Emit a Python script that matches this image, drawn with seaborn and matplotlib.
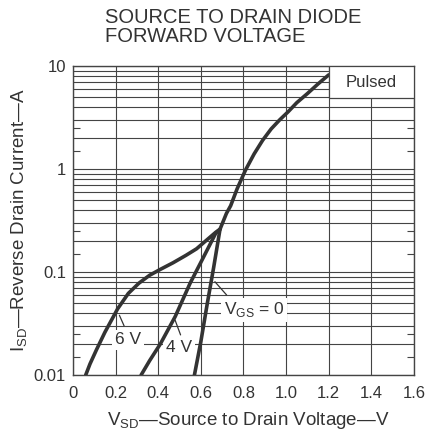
import numpy as np
import pandas as pd
import matplotlib
matplotlib.use("Agg")
import matplotlib.pyplot as plt
from matplotlib.patches import Rectangle
import seaborn as sns

# curve readings (V_SD in volts, I_SD in amps)
vgs0_v = [0.57, 0.60, 0.63, 0.66, 0.69, 0.72, 0.74, 0.77, 0.81, 0.85, 0.89,
          0.93, 0.97, 1.01, 1.05, 1.10, 1.15, 1.20]
vgs0_i = [0.01, 0.021, 0.049, 0.11, 0.26, 0.37, 0.44, 0.64, 0.98, 1.4, 1.9,
          2.45, 3.0, 3.6, 4.4, 5.4, 6.7, 8.2]

vgs4_v = [0.32, 0.36, 0.41, 0.48, 0.55, 0.60, 0.63, 0.67, 0.69]
vgs4_i = [0.01, 0.0138, 0.020, 0.037, 0.078, 0.124, 0.164, 0.238, 0.26]

vgs6_v = [0.06, 0.08, 0.11, 0.15, 0.21, 0.26, 0.31, 0.36, 0.41, 0.47, 0.53,
          0.58, 0.61, 0.64, 0.67, 0.69]
vgs6_i = [0.01, 0.0128, 0.0175, 0.026, 0.044, 0.062, 0.078, 0.093, 0.106,
          0.123, 0.145, 0.168, 0.19, 0.215, 0.243, 0.26]

x_ticks = [0, 0.2, 0.4, 0.6, 0.8, 1.0, 1.2, 1.4, 1.6]
x_labels = ["0", "0.2", "0.4", "0.6", "0.8", "1.0", "1.2", "1.4", "1.6"]
y_decades = [0.01, 0.1, 1, 10]
y_labels = ["0.01", "0.1", "1", "10"]

df = pd.concat([
    pd.DataFrame({"v": vgs0_v, "i": vgs0_i, "vgs": "0"}),
    pd.DataFrame({"v": vgs4_v, "i": vgs4_i, "vgs": "4"}),
    pd.DataFrame({"v": vgs6_v, "i": vgs6_i, "vgs": "6"}),
])

sns.set_style("white")
plt.rcParams["font.family"] = ["Liberation Sans", "DejaVu Sans"]
plt.rcParams["mathtext.fontset"] = "custom"
plt.rcParams["mathtext.rm"] = "Liberation Sans"

ink = "#333333"
fig = plt.figure(figsize=(4.29, 4.42), dpi=100)
ax = fig.add_axes([0.170, 0.1516, 0.795, 0.6991])

sns.lineplot(data=df, x="v", y="i", hue="vgs", units="vgs", estimator=None,
             sort=False, palette=[ink, ink, ink], linewidth=2.6,
             legend=False, ax=ax, zorder=4)
for ln in ax.lines:
    ln.set_solid_joinstyle("round")
    ln.set_solid_capstyle("round")

ax.set_yscale("log")
ax.set_xlim(0, 1.6)
ax.set_ylim(0.01, 10)

# grid at every 1..9 of each decade, labels only on decades
grid_y = [m * d for d in [0.01, 0.1, 1] for m in range(1, 10)] + [10]
ax.set_yticks(grid_y)
ax.set_yticklabels([y_labels[y_decades.index(g)] if g in y_decades else "" for g in grid_y])
ax.set_yticks([k * d for d in [0.01, 0.1, 1] for k in (1.5, 2.5)], minor=True)
ax.yaxis.set_minor_formatter(matplotlib.ticker.NullFormatter())
ax.set_xticks(x_ticks, x_labels)

ax.grid(True, which="major", color="#444444", linewidth=0.8)
ax.tick_params(axis="both", which="major", length=0, labelsize=12, colors=ink)
ax.tick_params(axis="x", pad=8)
ax.tick_params(axis="y", pad=5)
ax.tick_params(axis="y", which="minor", direction="in", length=5, width=0.8,
               left=True, right=True, color="#444444")
for s in ax.spines.values():
    s.set_color("#444444")
    s.set_linewidth(1.0)

ax.set_xlabel(r"V$_{\mathregular{SD}}$—Source to Drain Voltage—V", fontsize=13.5, color=ink, va="center")
ax.set_ylabel(r"I$_{\mathregular{SD}}$—Reverse Drain Current—A", fontsize=13.5, color=ink, va="center")
ax.xaxis.set_label_coords(0.513, -0.146)
ax.yaxis.set_label_coords(-0.155, 0.5)

box = dict(facecolor="white", edgecolor="none", pad=2)
ax.text(0.258, 0.0219, "6 V", fontsize=12.5, color=ink, ha="center", va="center", bbox=box, zorder=3)
ax.text(0.497, 0.0183, "4 V", fontsize=12.5, color=ink, ha="center", va="center", bbox=box, zorder=3)
ax.text(0.85, 0.0428, r"V$_{\mathregular{GS}}$ = 0", fontsize=12.5, color=ink, ha="center", va="center", bbox=box, zorder=3)
ax.plot([0.218, 0.24], [0.038, 0.030], color=ink, lw=0.9, zorder=5)
ax.plot([0.479, 0.505], [0.0342, 0.0245], color=ink, lw=0.9, zorder=5)
ax.plot([0.666, 0.721], [0.0805, 0.0598], color=ink, lw=0.9, zorder=5)

# Pulsed box in the upper right corner
ax.add_patch(Rectangle((0.751, 0.897), 0.249, 0.103, transform=ax.transAxes,
                       facecolor="white", edgecolor="#444444", lw=0.9, zorder=5))
ax.text(0.875, 0.948, "Pulsed", transform=ax.transAxes, fontsize=12, color=ink,
        ha="center", va="center", zorder=6)

fig.text(0.245, 0.981, "SOURCE TO DRAIN DIODE\nFORWARD VOLTAGE", fontsize=14.5,
         color=ink, ha="left", va="top", linespacing=0.95)

fig.savefig("out.png", dpi=100)
